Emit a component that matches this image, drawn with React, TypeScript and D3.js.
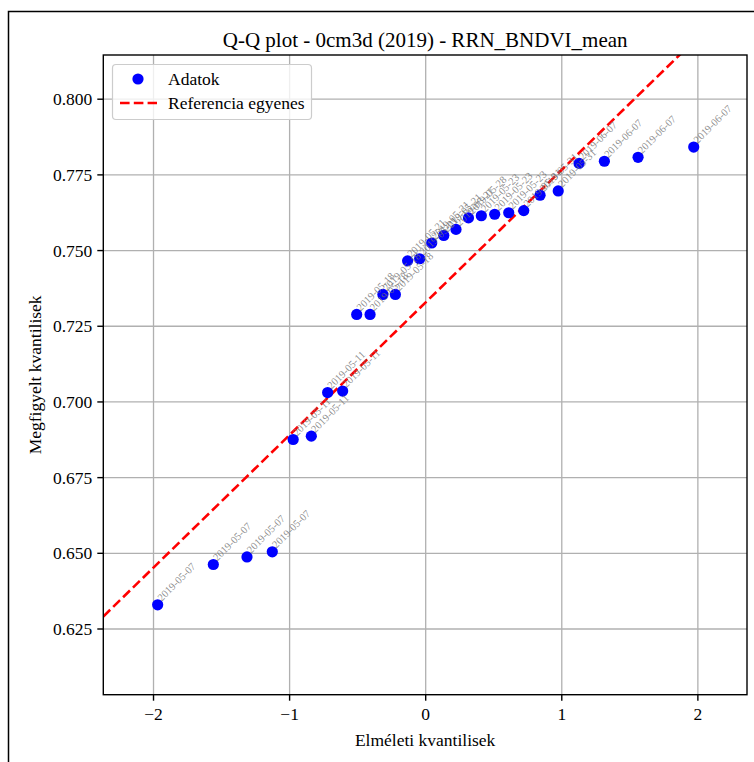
import React from "react";
import * as d3 from "d3";

const TITLE = "Q-Q plot - 0cm3d (2019) - RRN_BNDVI_mean";
const X_LABEL = "Elméleti kvantilisek";
const Y_LABEL = "Megfigyelt kvantilisek";
const LEGEND_POINTS = "Adatok";
const LEGEND_LINE = "Referencia egyenes";

// theoretical quantiles (x)
const theoretical = [
  -1.9694, -1.5605, -1.3131, -1.1272, -0.9738, -0.8404, -0.7206, -0.6103,
  -0.507, -0.4088, -0.3144, -0.2228, -0.1329, -0.0442, 0.0442, 0.1329,
  0.2228, 0.3144, 0.4088, 0.507, 0.6103, 0.7206, 0.8404, 0.9738, 1.1272,
  1.3131, 1.5605, 1.9694,
];
// observed ordered values (y)
const observed = [
  0.633, 0.6463, 0.6488, 0.6505, 0.6876, 0.6887, 0.7031, 0.7036, 0.7289,
  0.7289, 0.7355, 0.7355, 0.7466, 0.7473, 0.7525, 0.755, 0.757, 0.7608,
  0.7615, 0.762, 0.7625, 0.7632, 0.7683, 0.7697, 0.7788, 0.7795, 0.7808,
  0.7842,
];
const dates = [
  "2019-05-07", "2019-05-07", "2019-05-07", "2019-05-07",
  "2019-05-11", "2019-05-11", "2019-05-11", "2019-05-11",
  "2019-05-18", "2019-05-18", "2019-05-18", "2019-05-18",
  "2019-05-21", "2019-05-21", "2019-05-21", "2019-05-21",
  "2019-05-21", "2019-05-28", "2019-05-23", "2019-05-23",
  "2019-05-23", "2019-05-31", "2019-05-31", "2019-05-31",
  "2019-06-07", "2019-06-07", "2019-06-07", "2019-06-07",
];
const REF_SLOPE = 0.0438;
const REF_INTERCEPT = 0.7329;

const xTicks = [-2, -1, 0, 1, 2];
const yTicks = [0.625, 0.65, 0.675, 0.7, 0.725, 0.75, 0.775, 0.8];
const X_DOMAIN = [-2.369, 2.361];
const Y_DOMAIN = [0.6033, 0.8146];

const FONT = "'Liberation Serif', 'Times New Roman', 'DejaVu Serif', serif";

export default function App() {
  const W = 754;
  const H = 762;
  const left = 103.3;
  const right = 747;
  const top = 55;
  const bottom = 694.7;

  const x = d3.scaleLinear().domain(X_DOMAIN).range([left, right]);
  const y = d3.scaleLinear().domain(Y_DOMAIN).range([bottom, top]);

  const pts = theoretical.map((t, i) => ({ t, v: observed[i], d: dates[i] }));

  const lineGen = d3
    .line<number>()
    .x((d) => x(d))
    .y((d) => y(REF_INTERCEPT + REF_SLOPE * d));
  const refPath = lineGen([X_DOMAIN[0], X_DOMAIN[1]]) || "";

  const fmtY = d3.format(".3f");
  const fmtX = (v: number) => (v < 0 ? "\u2212" + Math.abs(v) : String(v));

  return (
    <svg
      width={W}
      height={H}
      style={{ position: "absolute", left: 0, top: 0, background: "#fff" }}
      fontFamily={FONT}
    >
      <defs>
        <clipPath id="plotclip">
          <rect x={left} y={top} width={right - left} height={bottom - top} />
        </clipPath>
      </defs>
      <rect x={0} y={0} width={W} height={H} fill="#fff" />
      {/* outer frame */}
      <path d={`M8.5,${H} L8.5,11.5 L${W},11.5`} fill="none" stroke="#000" strokeWidth={1.5} />

      {/* grid */}
      <g stroke="#b0b0b0" strokeWidth={1.3}>
        {xTicks.map((t) => (
          <line key={"gx" + t} x1={x(t)} x2={x(t)} y1={top} y2={bottom} />
        ))}
        {yTicks.map((t) => (
          <line key={"gy" + t} x1={left} x2={right} y1={y(t)} y2={y(t)} />
        ))}
      </g>

      {/* reference line */}
      <g clipPath="url(#plotclip)">
        <path d={refPath} fill="none" stroke="#ff0000" strokeWidth={2.6} strokeDasharray="9.6,4.2" />
      </g>

      {/* points */}
      <g fill="#0000ff">
        {pts.map((p, i) => (
          <circle key={"p" + i} cx={x(p.t)} cy={y(p.v)} r={5.6} />
        ))}
      </g>

      {/* point labels */}
      <g fill="#707070" fillOpacity={0.8} fontSize={10.5}>
        {pts.map((p, i) => {
          const px = x(p.t) + 4;
          const py = y(p.v) - 3;
          return (
            <text key={"l" + i} x={px} y={py} transform={`rotate(-45 ${px} ${py})`}>
              {p.d}
            </text>
          );
        })}
      </g>

      {/* axes frame */}
      <rect x={left} y={top} width={right - left} height={bottom - top} fill="none" stroke="#000" strokeWidth={1.4} />

      {/* x ticks */}
      <g>
        {xTicks.map((t) => (
          <g key={"xt" + t}>
            <line x1={x(t)} x2={x(t)} y1={bottom} y2={bottom + 6} stroke="#000" strokeWidth={1.4} />
            <text x={x(t)} y={bottom + 25} textAnchor="middle" fontSize={17.5} fill="#000">
              {fmtX(t)}
            </text>
          </g>
        ))}
      </g>
      {/* y ticks */}
      <g>
        {yTicks.map((t) => (
          <g key={"yt" + t}>
            <line x1={left - 6} x2={left} y1={y(t)} y2={y(t)} stroke="#000" strokeWidth={1.4} />
            <text x={left - 11} y={y(t) + 6} textAnchor="end" fontSize={17.5} fill="#000">
              {fmtY(t)}
            </text>
          </g>
        ))}
      </g>

      {/* axis labels */}
      <text x={(left + right) / 2} y={746} textAnchor="middle" fontSize={17.5} fill="#000">
        {X_LABEL}
      </text>
      <text
        x={0}
        y={0}
        transform={`translate(41 ${(top + bottom) / 2}) rotate(-90)`}
        textAnchor="middle"
        fontSize={17.5}
        fill="#000"
      >
        {Y_LABEL}
      </text>

      {/* title */}
      <text x={(left + right) / 2} y={47} textAnchor="middle" fontSize={21} fill="#000">
        {TITLE}
      </text>

      {/* legend */}
      <g>
        <rect x={112.5} y={64.5} width={199} height={55} rx={3.5} fill="#fff" fillOpacity={0.8} stroke="#cccccc" strokeWidth={1.2} />
        <circle cx={138} cy={79} r={5.6} fill="#0000ff" />
        <text x={168} y={85} fontSize={17.5} fill="#000">
          {LEGEND_POINTS}
        </text>
        <line x1={120} x2={157} y1={103} y2={103} stroke="#ff0000" strokeWidth={2.6} strokeDasharray="9.6,4.2" />
        <text x={168} y={109} fontSize={17.5} fill="#000">
          {LEGEND_LINE}
        </text>
      </g>
    </svg>
  );
}
